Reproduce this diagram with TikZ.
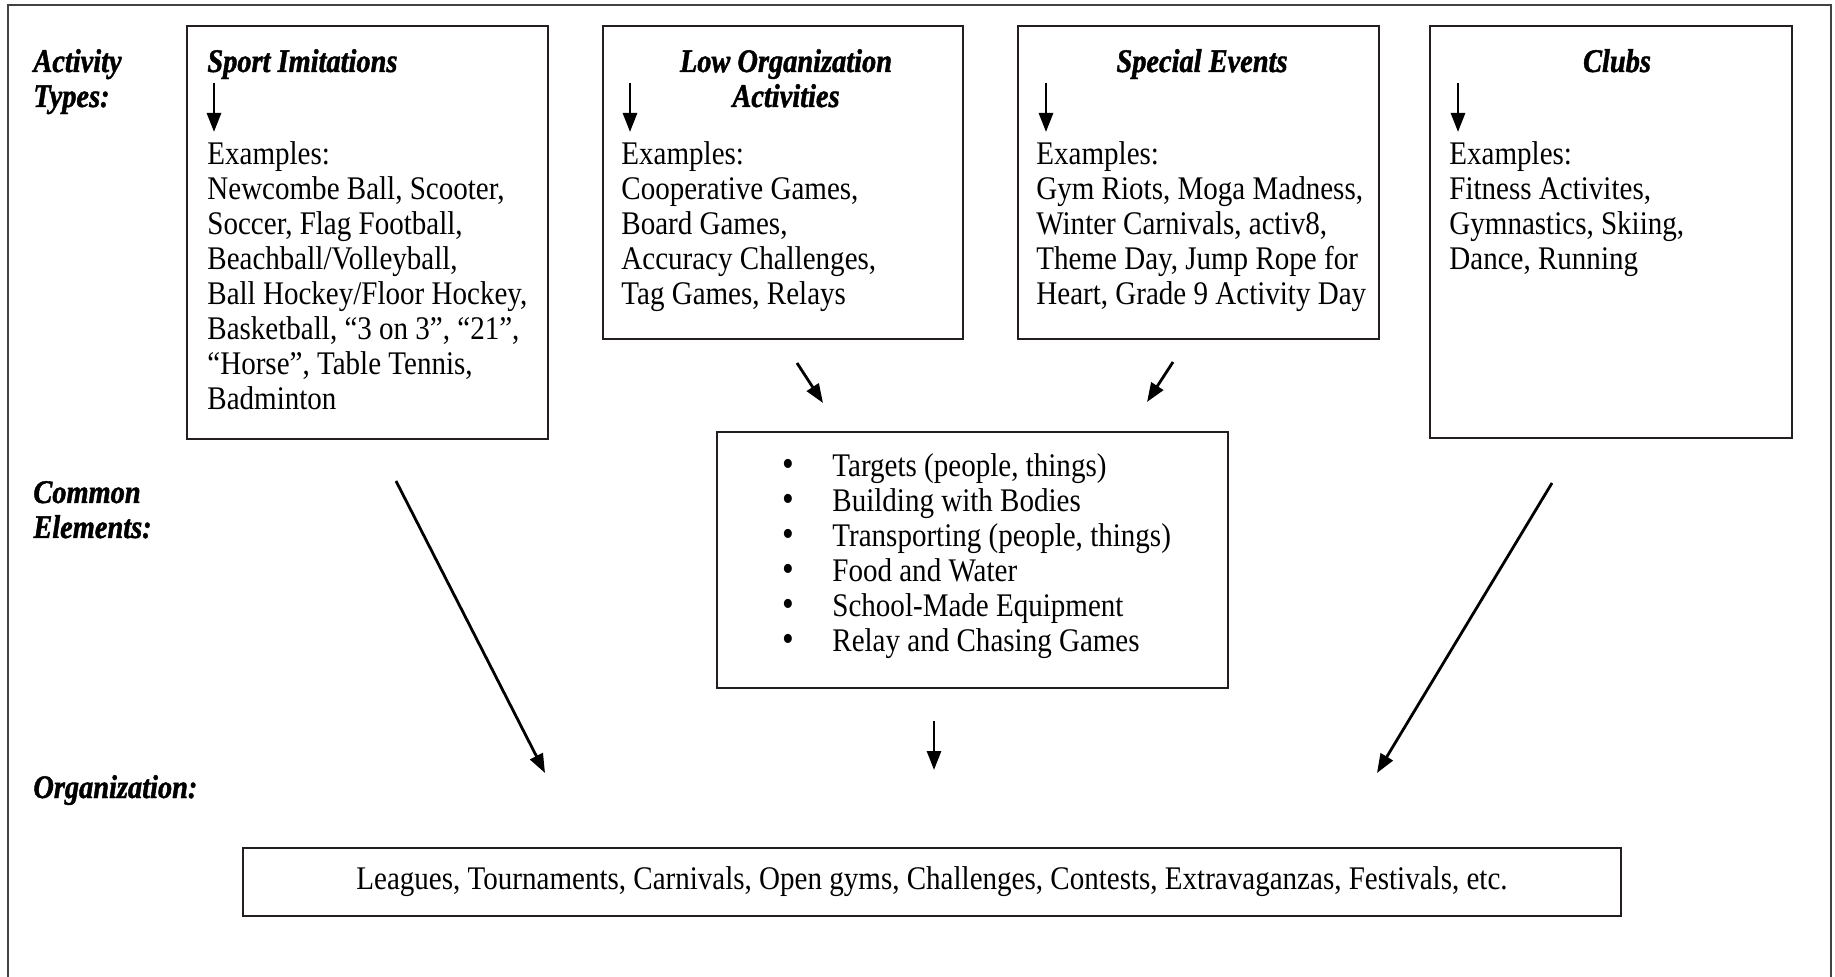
\documentclass[tikz,border=0pt]{standalone}
\usepackage{fontspec}
\setmainfont{Liberation Serif}[FakeStretch=0.88]
\newfontfamily\hdfont{Liberation Serif}[FakeStretch=0.86,FakeBold=1.3]
\usetikzlibrary{arrows.meta}
\definecolor{ink}{HTML}{231F20}
\newcommand{\bul}{\makebox[25pt][l]{\fontsize{19}{17.5}\selectfont•}}
\begin{document}
\begin{tikzpicture}[x=0.5pt,y=-0.5pt,
  box/.style={draw=ink,line width=1.3pt,inner sep=0pt,outer sep=0pt},
  frame/.style={draw=ink!85,line width=1.3pt},
  arr/.style={line width=1.4pt,-{Triangle[length=9.5pt,width=7pt]}},
  body/.style={inner sep=0pt,align=left,font={\fontsize{16.5}{17.5}\selectfont}},
  hd/.style={inner sep=0pt,font={\fontsize{16.5}{17.5}\hdfont\bfseries\itshape}},
  lbl/.style={inner sep=0pt,anchor=base west,font={\fontsize{16.5}{17.5}\hdfont\bfseries\itshape}}]
\useasboundingbox (0,0) rectangle (1835,977);
\fill[white] (0,0) rectangle (1835,977);
% outer frame (bottom edge lies below the page)
\draw[frame] (8,1000) -- (8,5) -- (1831,5) -- (1831,1000);
% boxes
\node[box,minimum width=180.5pt,minimum height=206.5pt] (sport) at (367.5,232.5) {};
\node[box,minimum width=180pt,minimum height=156.5pt] (low) at (783,182.5) {};
\node[box,minimum width=180.5pt,minimum height=156.5pt] (special) at (1198.5,182.5) {};
\node[box,minimum width=181pt,minimum height=206pt] (clubs) at (1611,232) {};
\node[box,minimum width=255.5pt,minimum height=128pt] (common) at (972.5,560) {};
\node[box,minimum width=689pt,minimum height=34pt] (org) at (932,882) {};
% left labels
\node[lbl] (lab1) at (33,72) {Activity};
\node[lbl] (lab2) at (33,107) {Types:};
\node[lbl] (lab3) at (33,503) {Common};
\node[lbl] (lab4) at (33,538) {Elements:};
\node[lbl] (lab5) at (33,798) {Organization:};
% headings
\node[hd,anchor=base west] (h1) at (207,72) {Sport Imitations};
\node[hd,anchor=base] (h2a) at (786,72) {Low Organization};
\node[hd,anchor=base] (h2b) at (786,107) {Activities};
\node[hd,anchor=base] (h3) at (1202,72) {Special Events};
\node[hd,anchor=base] (h4) at (1617,72) {Clubs};
% body texts
\node[body,anchor=north west] (t1) at (207,141.5) {Examples:\\Newcombe Ball, Scooter,\\Soccer, Flag Football,\\Beachball/Volleyball,\\Ball Hockey/Floor Hockey,\\Basketball, “3 on 3”, “21”,\\“Horse”, Table Tennis,\\Badminton};
\node[body,anchor=north west] (t2) at (621,141.5) {Examples:\\Cooperative Games,\\Board Games,\\Accuracy Challenges,\\Tag Games, Relays};
\node[body,anchor=north west] (t3) at (1036,141.5) {Examples:\\Gym Riots, Moga Madness,\\Winter Carnivals, activ8,\\Theme Day, Jump Rope for\\Heart, Grade 9 Activity Day};
\node[body,anchor=north west] (t4) at (1449,141.5) {Examples:\\Fitness Activites,\\Gymnastics, Skiing,\\Dance, Running};
\node[body,anchor=north west] (t5) at (782,453) {\bul Targets (people, things)\\\bul Building with Bodies\\\bul Transporting (people, things)\\\bul Food and Water\\\bul School-Made Equipment\\\bul Relay and Chasing Games};
\node[body] (t6) at (org.center) {Leagues, Tournaments, Carnivals, Open gyms, Challenges, Contests, Extravaganzas, Festivals, etc.};
% arrow end points
\coordinate (a1s) at (214,83);  \coordinate (a1e) at (214,132);
\coordinate (a2s) at (630,83);  \coordinate (a2e) at (630,132);
\coordinate (a3s) at (1046,83); \coordinate (a3e) at (1046,132);
\coordinate (a4s) at (1458,83); \coordinate (a4e) at (1458,132);
\coordinate (d1s) at (797,363); \coordinate (d1e) at (823,403);
\coordinate (d2s) at (1173,362); \coordinate (d2e) at (1147,402);
\coordinate (b1s) at (396,481); \coordinate (b1e) at (545,773);
\coordinate (b2s) at (1552,483); \coordinate (b2e) at (1377,773);
\coordinate (cs) at (934,721); \coordinate (ce) at (934,770);
\draw[arr] (a1s) -- (a1e);
\draw[arr] (a2s) -- (a2e);
\draw[arr] (a3s) -- (a3e);
\draw[arr] (a4s) -- (a4e);
\draw[arr] (d1s) -- (d1e);
\draw[arr] (d2s) -- (d2e);
\draw[arr] (b1s) -- (b1e);
\draw[arr] (b2s) -- (b2e);
\draw[arr] (cs) -- (ce);
\end{tikzpicture}
\end{document}
